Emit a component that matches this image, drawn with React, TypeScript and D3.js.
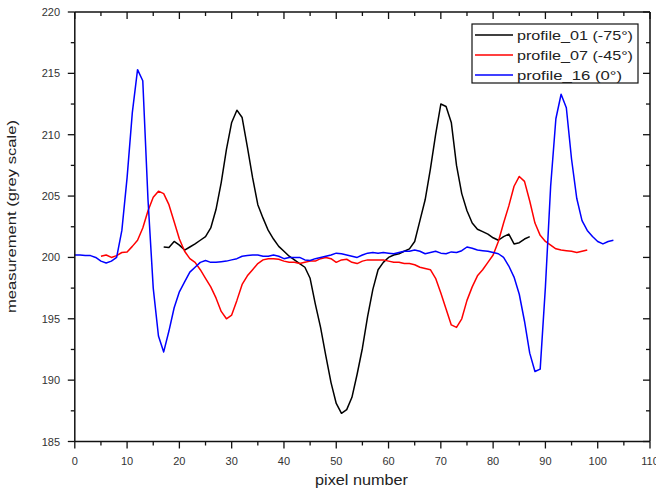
import React from "react";
import * as d3 from "d3";

// ---- data ----
const profile01Start = 17;
const profile01 = [
  200.85, 200.8, 201.3, 201.0, 200.6, 200.85, 201.1, 201.4, 201.7, 202.4,
  203.9, 206.1, 208.8, 211.0, 212.0, 211.4, 209.0, 206.5, 204.3, 203.2,
  202.2, 201.5, 200.9, 200.5, 200.1, 199.8, 199.5, 199.2, 198.3, 196.2,
  194.3, 192.0, 189.8, 188.1, 187.3, 187.6, 188.6, 190.5, 192.6, 195.2,
  197.4, 199.0, 199.6, 200.0, 200.2, 200.3, 200.5, 200.7, 201.3, 203.0,
  204.7, 207.2, 210.0, 212.5, 212.3, 211.0, 207.5, 205.2, 203.8, 202.8,
  202.3, 202.1, 201.9, 201.6, 201.4, 201.7, 201.9, 201.1, 201.2, 201.5,
  201.7,
];

const profile07Start = 5;
const profile07 = [
  200.1, 200.2, 200.0, 200.15, 200.4, 200.45, 200.9, 201.4, 202.4, 203.8,
  204.9, 205.4, 205.2, 204.3, 202.9, 201.5, 200.5, 199.9, 199.6, 199.0,
  198.3, 197.6, 196.7, 195.6, 195.0, 195.3, 196.5, 197.8, 198.5, 199.0,
  199.5, 199.8, 199.9, 199.9, 199.85, 199.7, 199.6, 199.6, 199.5, 199.6,
  199.7, 199.7, 199.9, 200.0, 199.9, 199.6, 199.8, 199.85, 199.6, 199.5,
  199.7, 199.8, 199.8, 199.8, 199.8, 199.7, 199.6, 199.6, 199.5, 199.5,
  199.4, 199.2, 199.1, 199.0, 198.3, 197.1, 195.8, 194.5, 194.3, 195.0,
  196.5, 197.6, 198.5, 199.0, 199.6, 200.2, 201.3, 202.8, 204.2, 205.8,
  206.6, 206.2, 204.6, 202.8, 201.8, 201.3, 201.0, 200.7, 200.6, 200.55,
  200.5, 200.4, 200.5, 200.6,
];

const profile16Start = 0;
const profile16 = [
  200.2, 200.2, 200.15, 200.15, 200.0, 199.7, 199.55, 199.7, 200.0, 202.2,
  206.5, 211.8, 215.3, 214.4, 204.7, 197.5, 193.6, 192.3, 194.0, 195.9,
  197.2, 198.0, 198.8, 199.2, 199.6, 199.75, 199.6, 199.6, 199.65, 199.7,
  199.8, 199.9, 200.1, 200.15, 200.2, 200.2, 200.1, 200.1, 200.2, 200.1,
  199.9, 200.0, 200.0, 200.0, 199.8, 199.75, 199.9, 200.0, 200.1, 200.2,
  200.35, 200.3, 200.2, 200.1, 200.0, 200.2, 200.35, 200.4, 200.35, 200.4,
  200.35, 200.3, 200.4, 200.5, 200.5, 200.6, 200.5, 200.3, 200.4, 200.5,
  200.35, 200.3, 200.45, 200.4, 200.55, 200.85, 200.75, 200.6, 200.55, 200.5,
  200.4, 200.3, 200.0, 199.3, 198.4, 197.0, 194.8, 192.2, 190.7, 190.9,
  197.6, 205.8, 211.3, 213.3, 212.2, 208.0, 204.8, 203.0, 202.2, 201.7,
  201.3, 201.1, 201.3, 201.4,
];

const seriesNames = ["profile_01 (-75°)", "profile_07 (-45°)", "profile_16 (0°)"];
const seriesColors = ["#000000", "#ff0000", "#0000ff"];

const xTicks = [0, 10, 20, 30, 40, 50, 60, 70, 80, 90, 100, 110];
const yTicks = [185, 190, 195, 200, 205, 210, 215, 220];
const xLabel = "pixel number";
const yLabel = "measurement (grey scale)";

export default function App() {
  const W = 656;
  const H = 492;
  const x = d3.scaleLinear().domain([0, 110]).range([74.8, 650]);
  const y = d3.scaleLinear().domain([185, 220]).range([441.5, 12]);
  const font = "'Liberation Sans', Arial, sans-serif";

  const toPts = (start: number, arr: number[]) =>
    arr.map((v, i) => [start + i, v] as [number, number]);
  const series = [
    toPts(profile01Start, profile01),
    toPts(profile07Start, profile07),
    toPts(profile16Start, profile16),
  ];
  const line = d3
    .line<[number, number]>()
    .x((d) => x(d[0]))
    .y((d) => y(d[1]));

  const xMinor = d3.range(5, 110, 10);
  const yMinor = d3.range(187.5, 220, 5);
  const x0 = x(0), x1 = x(110), y0 = y(185), y1 = y(220);
  const maj = 7, mnr = 4;
  const axisColor = "#111";
  const tickText = "#333";

  return (
    <svg
      width={W}
      height={H}
      style={{ position: "absolute", left: 0, top: 0, background: "#fff" }}
    >
      <rect x={0} y={0} width={W} height={H} fill="#fff" />
      {/* series */}
      {series.map((pts, i) => (
        <path
          key={i}
          d={line(pts) || ""}
          fill="none"
          stroke={seriesColors[i]}
          strokeWidth={1.5}
          strokeLinejoin="round"
        />
      ))}
      {/* frame */}
      <g stroke={axisColor} strokeWidth={1.5} fill="none">
        <line x1={x0} y1={y0} x2={x1} y2={y0} />
        <line x1={x0} y1={y1} x2={x1} y2={y1} />
        <line x1={x0} y1={y0} x2={x0} y2={y1} />
        <line x1={x1} y1={y0} x2={x1} y2={y1} />
      </g>
      {/* ticks */}
      <g stroke={axisColor} strokeWidth={1.3}>
        {xTicks.map((t) => (
          <g key={"xt" + t}>
            <line x1={x(t)} x2={x(t)} y1={y0} y2={y0 + maj} />
            <line x1={x(t)} x2={x(t)} y1={y1} y2={y1 + maj} />
          </g>
        ))}
        {xMinor.map((t) => (
          <g key={"xm" + t}>
            <line x1={x(t)} x2={x(t)} y1={y0} y2={y0 + mnr} />
            <line x1={x(t)} x2={x(t)} y1={y1} y2={y1 + mnr} />
          </g>
        ))}
        {yTicks.map((t) => (
          <g key={"yt" + t}>
            <line x1={x0 - maj} x2={x0} y1={y(t)} y2={y(t)} />
            <line x1={x1 - maj} x2={x1} y1={y(t)} y2={y(t)} />
          </g>
        ))}
        {yMinor.map((t) => (
          <g key={"ym" + t}>
            <line x1={x0 - mnr} x2={x0} y1={y(t)} y2={y(t)} />
            <line x1={x1 - mnr} x2={x1} y1={y(t)} y2={y(t)} />
          </g>
        ))}
      </g>
      {/* tick labels */}
      <g fontFamily={font} fontSize={11} fill={tickText}>
        {xTicks.map((t) => (
          <text key={"xl" + t} x={x(t)} y={465} textAnchor="middle">
            {t}
          </text>
        ))}
        {yTicks.map((t) => (
          <text key={"yl" + t} x={60} y={y(t) + 4} textAnchor="end">
            {t}
          </text>
        ))}
      </g>
      {/* axis titles */}
      <text
        x={361.5}
        y={485}
        textAnchor="middle"
        fontFamily={font}
        fontSize={14}
        fill="#222"
        textLength={93}
        lengthAdjust="spacingAndGlyphs"
      >
        {xLabel}
      </text>
      <text
        transform={`translate(15.5, 216.5) rotate(-90)`}
        textAnchor="middle"
        fontFamily={font}
        fontSize={13.5}
        fill="#222"
        textLength={193}
        lengthAdjust="spacingAndGlyphs"
      >
        {yLabel}
      </text>
      {/* legend */}
      <rect x={472} y={24} width={166} height={59} fill="#fff" stroke="#111" strokeWidth={1.2} />
      {seriesNames.map((n, i) => {
        const ly = 35 + i * 20;
        return (
          <g key={n}>
            <line x1={475} x2={513} y1={ly} y2={ly} stroke={seriesColors[i]} strokeWidth={1.5} />
            <text
              x={517}
              y={ly + 4.6}
              fontFamily={font}
              fontSize={13.5}
              fill="#222"
              textLength={i === 2 ? 105 : 116}
              lengthAdjust="spacingAndGlyphs"
            >
              {n}
            </text>
          </g>
        );
      })}
    </svg>
  );
}
